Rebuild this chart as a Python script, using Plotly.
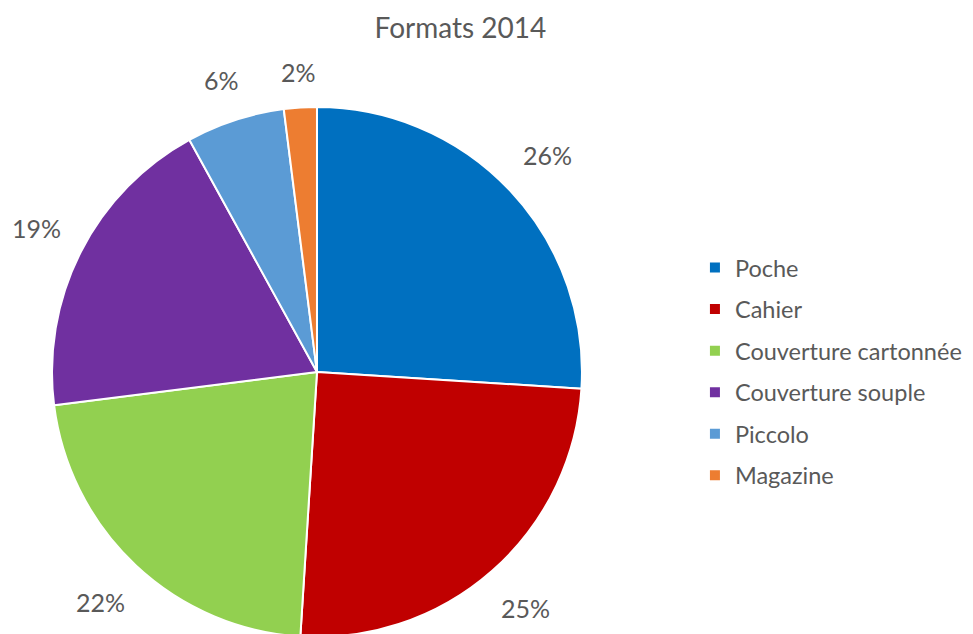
import math
import plotly.graph_objects as go

categories = ["Poche", "Cahier", "Couverture cartonnée", "Couverture souple", "Piccolo", "Magazine"]
values = [26, 25, 22, 19, 6, 2]
colors = ["#0070C0", "#C00000", "#92D050", "#7030A0", "#5B9BD5", "#ED7D31"]
title_text = "Formats 2014"

W, H = 973, 634
FONT = "Lato, Calibri, Carlito, sans-serif"
TXT = "#595959"

# pie placement (paper fractions)
dom_x = [0.0452, 0.5899]
dom_y = [0.0079, 0.8438]

fig = go.Figure()
fig.add_trace(go.Pie(
    labels=categories, values=values, sort=False, direction="clockwise", rotation=0,
    marker=dict(colors=colors, line=dict(color="white", width=2)),
    textinfo="none", hoverinfo="label+percent", showlegend=False,
    domain=dict(x=dom_x, y=dom_y),
))

# legend entries
for i, (c, col) in enumerate(zip(categories, colors)):
    fig.add_trace(go.Scatter(
        x=[None], y=[None], mode="markers", name=c, legendgroup=f"g{i}",
        marker=dict(symbol="square", size=10, color=col),
        showlegend=True,
    ))

# percentage labels placed along each slice's mid-angle, outside the pie
cx = (dom_x[0] + dom_x[1]) / 2 * W
cy = (dom_y[0] + dom_y[1]) / 2 * H
R = min((dom_x[1] - dom_x[0]) * W, (dom_y[1] - dom_y[0]) * H) / 2
total = sum(values)
cum = 0
annotations = []
GAP, HW, HH = 22, 29, 12
for v in values:
    mid = (cum + v / 2) / total * 2 * math.pi
    cum += v
    s, c = math.sin(mid), math.cos(mid)
    rr = R + GAP + abs(s) * HW + abs(c) * HH
    px = max(cx + rr * s, 28)
    x = px / W
    y = (cy + rr * c) / H
    annotations.append(dict(
        x=x, y=y, xref="paper", yref="paper", showarrow=False,
        text=f"{round(v / total * 100)}%", font=dict(family=FONT, size=25, color=TXT),
        xanchor="center", yanchor="middle",
    ))

fig.update_layout(
    width=W, height=H,
    margin=dict(l=0, r=0, t=0, b=0),
    paper_bgcolor="white", plot_bgcolor="white",
    title=dict(text=title_text, x=0.465, xanchor="center", y=0.968, yanchor="middle",
               font=dict(family=FONT, size=28, color=TXT)),
    font=dict(family=FONT, size=23.5, color=TXT),
    xaxis=dict(visible=False), yaxis=dict(visible=False),
    legend=dict(x=0.706, y=0.625, xanchor="left", yanchor="top", tracegroupgap=8,
                font=dict(family=FONT, size=23.5, color=TXT), bgcolor="rgba(0,0,0,0)"),
    annotations=annotations,
)

fig.write_html("out.html")
